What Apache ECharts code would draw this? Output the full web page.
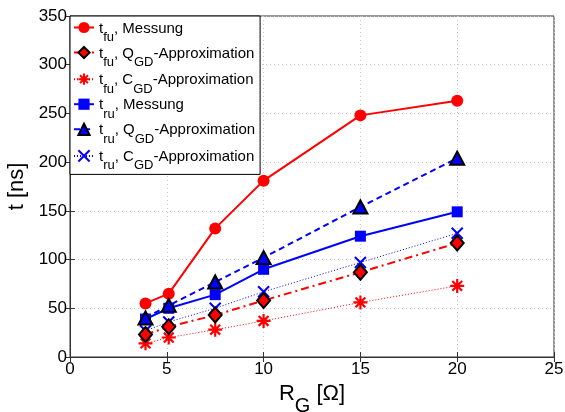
<!DOCTYPE html>
<html><head><meta charset="utf-8">
<script src="https://cdn.jsdelivr.net/npm/echarts@6/dist/echarts.min.js"></script>
<style>html,body{margin:0;padding:0;background:#fff}#c{width:565px;height:412px}</style>
</head><body><div id="c"></div>
<script>
const xVals = [3.9, 5.1, 7.5, 10, 15, 20];
const tfuMess = [55, 65, 132, 181, 248, 263];
const tfuQgd = [23, 31, 43, 58, 87, 117];
const tfuCgd = [14, 20, 28, 37, 56, 73];
const truMess = [39, 50, 64, 90, 124, 149];
const truQgd = [40, 53, 77, 102, 154, 204];
const truCgd = [27, 36, 50, 67, 97, 127];
const xTicks = [0, 5, 10, 15, 20, 25];
const yTicks = [0, 50, 100, 150, 200, 250, 300, 350];
const names = ['tfu_mess','tfu_qgd','tfu_cgd','tru_mess','tru_qgd','tru_cgd'];
const legendText = {
  tfu_mess: '{n|t}{s|fu}{n|, Messung}',
  tfu_qgd: '{n|t}{s|fu}{n|, Q}{s|GD}{n|-Approximation}',
  tfu_cgd: '{n|t}{s|fu}{n|, C}{s|GD}{n|-Approximation}',
  tru_mess: '{n|t}{s|ru}{n|, Messung}',
  tru_qgd: '{n|t}{s|ru}{n|, Q}{s|GD}{n|-Approximation}',
  tru_cgd: '{n|t}{s|ru}{n|, C}{s|GD}{n|-Approximation}'
};
const pairs = v => xVals.map((x,i)=>[x,v[i]]);
const RED = '#ff0000', BLUE = '#0000ff';
const asterisk = 'path://M0,-10L0,10M-10,0L10,0M-7,-7L7,7M-7,7L7,-7';
const cross = 'path://M-10,-10L10,10M-10,10L10,-10';
const chart = echarts.init(document.getElementById('c'));
const font = 'Liberation Sans, Arial, sans-serif';
chart.setOption({
  animation: false,
  grid: {left: 70, right: 11, top: 16, bottom: 55, containLabel: false, outerBoundsMode: 'none',
    show: true, borderColor: '#333', borderWidth: 1, backgroundColor: '#fff'},
  xAxis: [{
    type: 'value', min: 0, max: 25, interval: 5,
    axisLine: {show: true, onZero: false, lineStyle: {color: '#333'}},
    axisTick: {inside: true, length: 5, lineStyle: {color: '#333'}},
    axisLabel: {color: '#000', fontSize: 17, fontFamily: font, margin: 4},
    splitLine: {show: true, lineStyle: {color: '#c8c8c8', type: [1, 3]}},
    name: '{n|R}{s|G}{n| [Ω]}', nameLocation: 'middle', nameGap: 22,
    nameTextStyle: {rich: {n: {fontSize: 22, fontFamily: font, color: '#000', verticalAlign: 'bottom', lineHeight: 26}, s: {fontSize: 20, fontFamily: font, color: '#000', verticalAlign: 'bottom', lineHeight: 20, padding: [0,0,-11,0]}}}
  }, {
    type: 'value', min: 0, max: 25, interval: 5, position: 'top',
    axisLine: {show: false}, axisTick: {inside: true, length: 5, lineStyle: {color: '#333'}},
    axisLabel: {show: false}, splitLine: {show: false}
  }],
  yAxis: [{
    type: 'value', min: 0, max: 350, interval: 50,
    axisLine: {show: true, lineStyle: {color: '#333'}},
    axisTick: {inside: true, length: 5, lineStyle: {color: '#333'}},
    axisLabel: {color: '#000', fontSize: 17, fontFamily: font, margin: 3},
    splitLine: {show: true, lineStyle: {color: '#c8c8c8', type: [1, 3]}},
    name: 't [ns]', nameLocation: 'middle', nameGap: 33, nameRotate: 90,
    nameTextStyle: {fontSize: 22, fontFamily: font, color: '#000'}
  }, {
    type: 'value', min: 0, max: 350, interval: 50, position: 'right',
    axisLine: {show: false}, axisTick: {inside: true, length: 5, lineStyle: {color: '#333'}},
    axisLabel: {show: false}, splitLine: {show: false}
  }],
  legend: {
    orient: 'vertical', left: 70, top: 16, padding: [5, 5, 2, 3], itemGap: 2,
    backgroundColor: '#fff', borderColor: '#000', borderWidth: 1, borderRadius: 0,
    itemWidth: 20, itemHeight: 14,
    data: names,
    formatter: n => legendText[n],
    textStyle: {rich: {
      n: {fontSize: 15, fontFamily: font, color: '#000', lineHeight: 17, verticalAlign: 'bottom'},
      s: {fontSize: 13, fontFamily: font, color: '#000', lineHeight: 13, verticalAlign: 'bottom', padding: [0,0,-8,0]}
    }}
  },
  series: [
    {name: 'tfu_mess', type: 'line', data: pairs(tfuMess), symbol: 'circle', symbolSize: 12,
      lineStyle: {color: RED, width: 2}, itemStyle: {color: RED, borderColor: RED, borderWidth: 0}, z: 6},
    {name: 'tfu_qgd', type: 'line', data: pairs(tfuQgd), symbol: 'diamond', symbolSize: [13, 15],
      lineStyle: {color: RED, width: 2, type: [8, 4, 2, 4]}, itemStyle: {color: RED, borderColor: '#000', borderWidth: 2}, z: 5},
    {name: 'tfu_cgd', type: 'line', data: pairs(tfuCgd), symbol: asterisk, symbolSize: 14,
      lineStyle: {color: RED, width: 1, type: [1, 2]}, itemStyle: {color: 'none', borderColor: RED, borderWidth: 2.2}, z: 4},
    {name: 'tru_mess', type: 'line', data: pairs(truMess), symbol: 'rect', symbolSize: 11,
      lineStyle: {color: BLUE, width: 2}, itemStyle: {color: BLUE, borderColor: BLUE, borderWidth: 0}, z: 6},
    {name: 'tru_qgd', type: 'line', data: pairs(truQgd), symbol: 'triangle', symbolSize: [14, 13],
      lineStyle: {color: BLUE, width: 2, type: [6, 4]}, itemStyle: {color: BLUE, borderColor: '#000', borderWidth: 2}, z: 7},
    {name: 'tru_cgd', type: 'line', data: pairs(truCgd), symbol: cross, symbolSize: 11,
      lineStyle: {color: BLUE, width: 1, type: [1, 2]}, itemStyle: {color: 'none', borderColor: BLUE, borderWidth: 2}, z: 4}
  ]
});
</script></body></html>
